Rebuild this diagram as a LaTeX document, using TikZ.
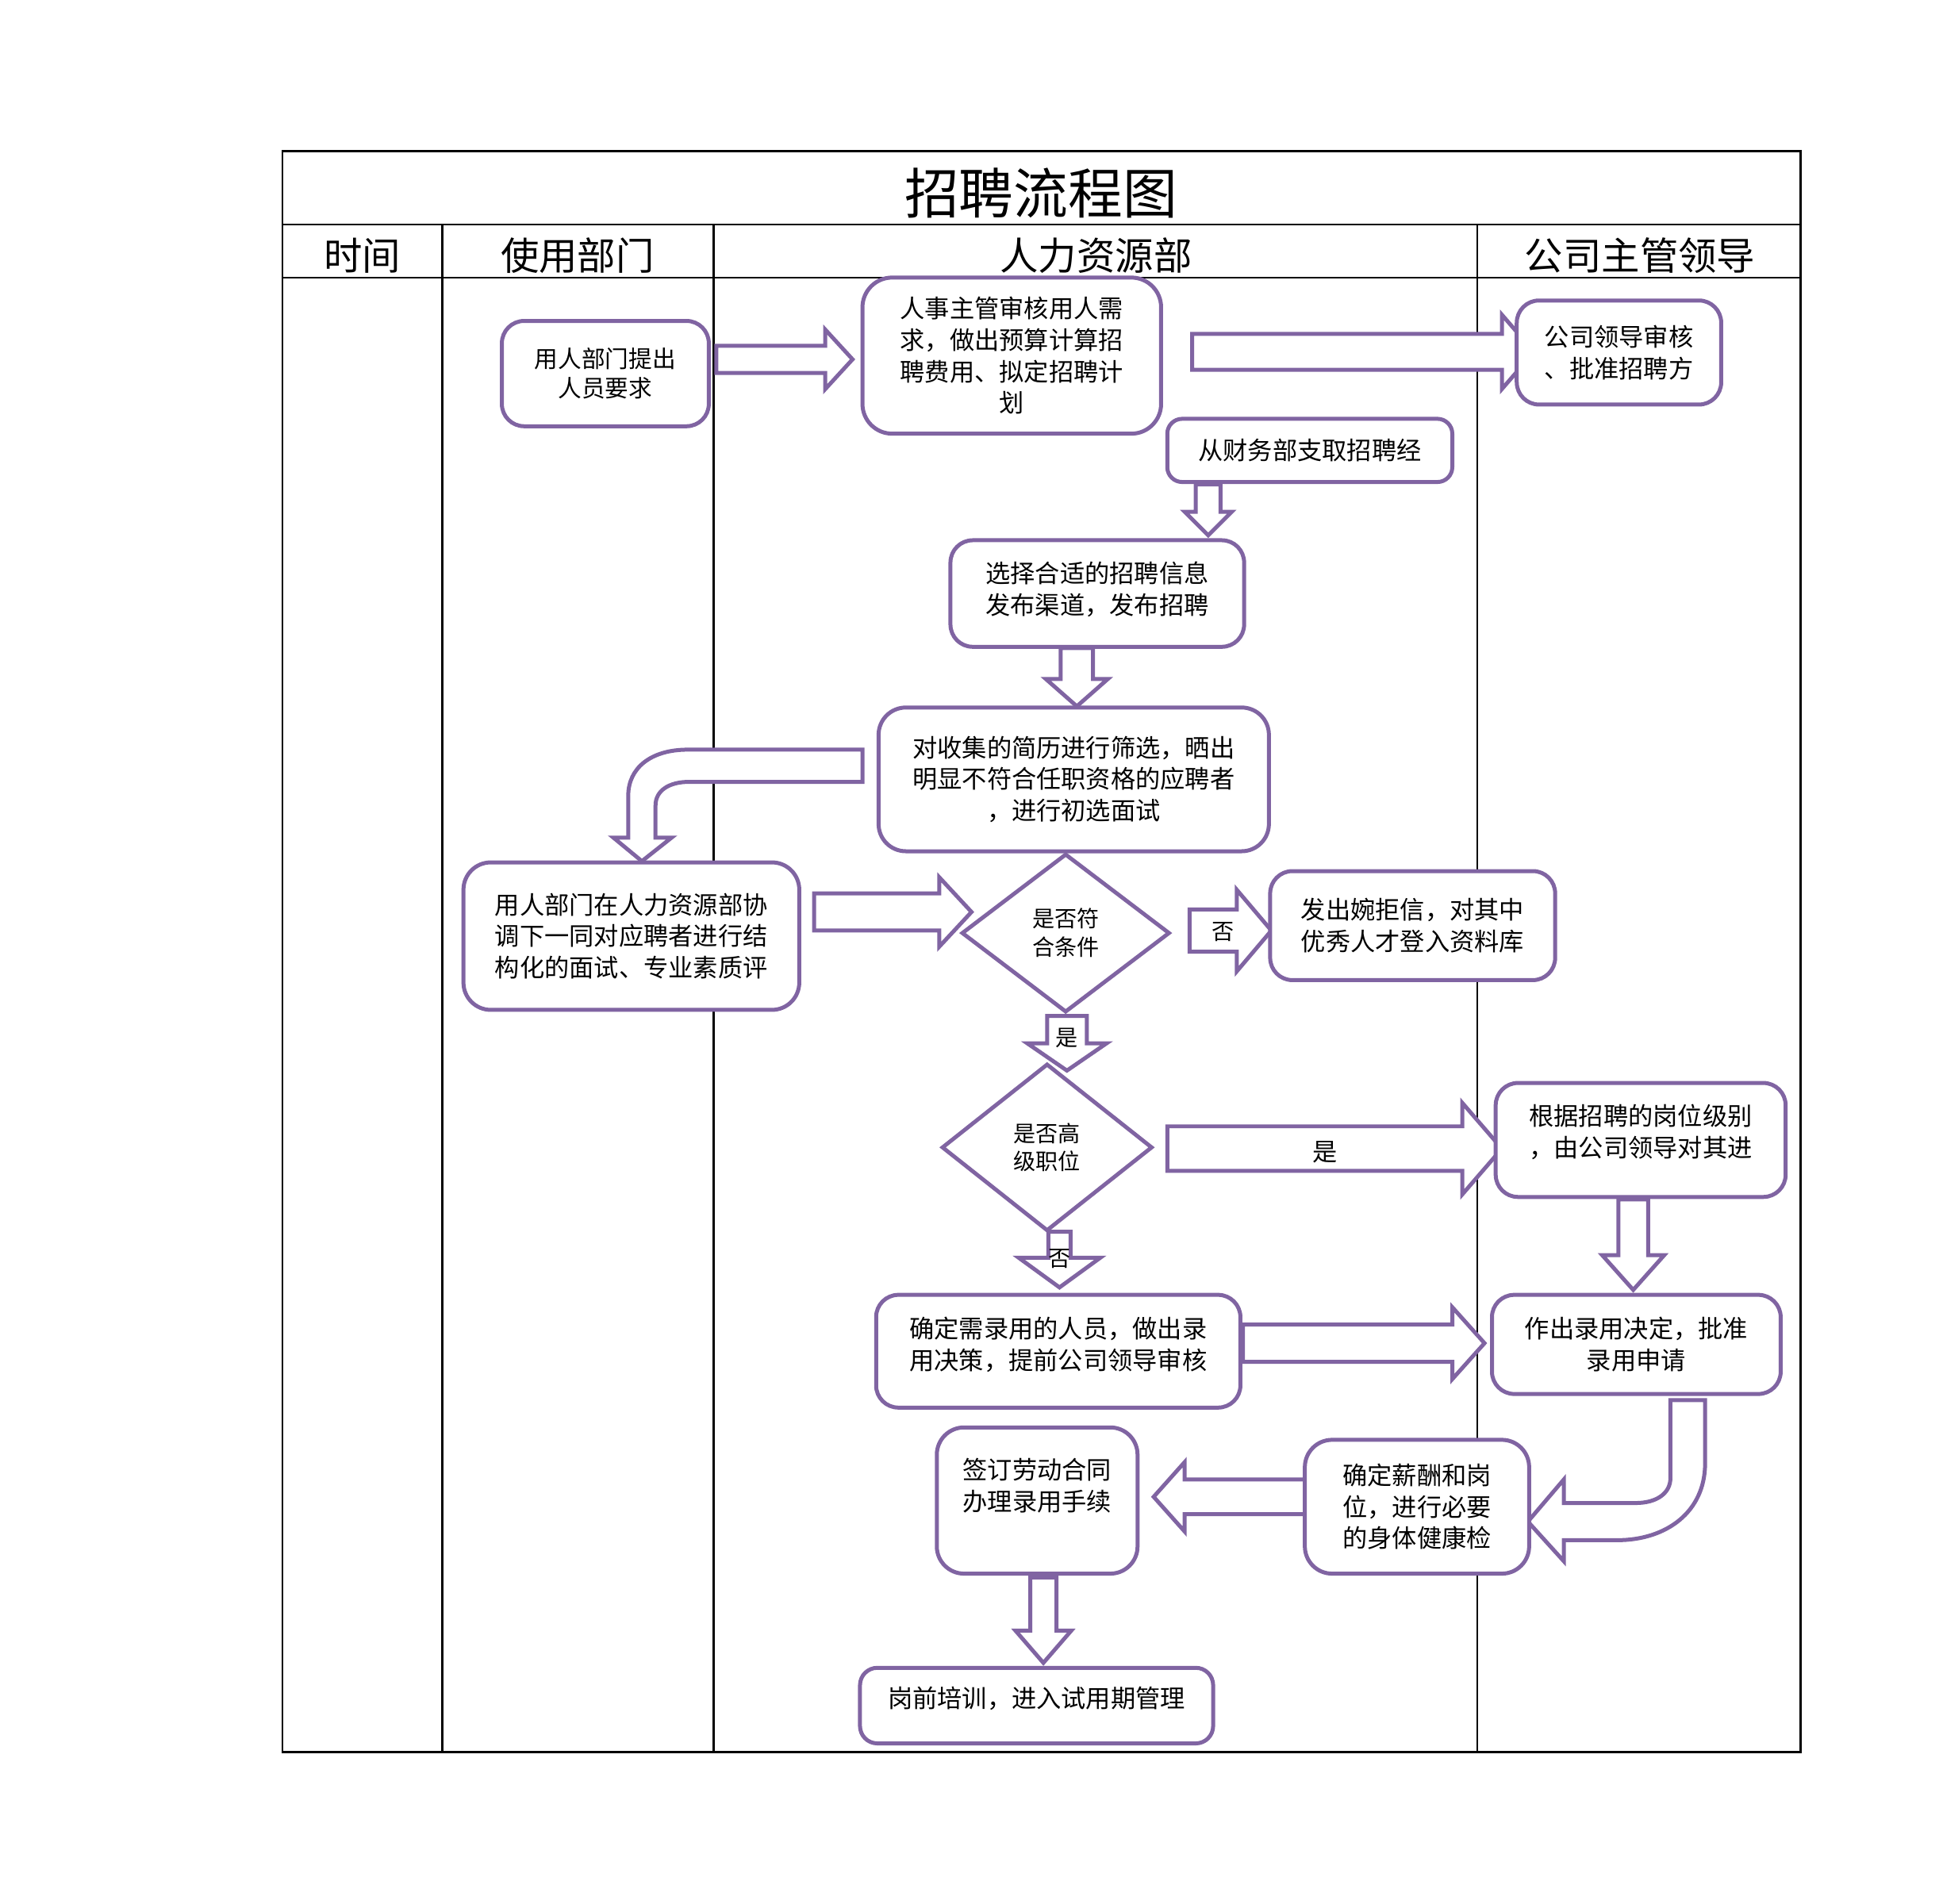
\documentclass[tikz,border=0pt]{standalone}
\usepackage{fontspec}
\setmainfont{Noto Sans CJK SC}
\usetikzlibrary{shapes.geometric}

\tikzset{every picture/.style={line width=0.75pt}}
\tikzset{
  flowbox/.style={draw={rgb, 255:red, 128; green, 100; blue, 162 }, fill=white, line width=1.6pt, rounded corners=9pt, align=center, inner sep=0pt, font=\fontsize{10}{12.7}\selectfont},
  flowdiamond/.style={draw={rgb, 255:red, 128; green, 100; blue, 162 }, fill=white, line width=1.6pt, shape=diamond, align=center, inner sep=0pt, font=\fontsize{9}{11.5}\selectfont},
  blockarrow/.style={draw={rgb, 255:red, 128; green, 100; blue, 162 }, fill=white, line width=1.6pt},
  arrowlabel/.style={inner sep=0pt, font=\fontsize{9}{10}\selectfont},
  headcell/.style={inner sep=0pt, font=\fontsize{15.5}{16}\selectfont}
}

% #1 start x, #2 head x, #3 tip x, #4 centre y, #5 half shaft, #6 half head
\newcommand{\hblock}[6]{\draw[blockarrow] (#1,#4-#5) -- (#2,#4-#5) -- (#2,#4-#6) -- (#3,#4) -- (#2,#4+#6) -- (#2,#4+#5) -- (#1,#4+#5) -- cycle ;}
% #1 start y, #2 head y, #3 tip y, #4 centre x, #5 half shaft, #6 half head
\newcommand{\vblock}[6]{\draw[blockarrow] (#4-#5,#1) -- (#4-#5,#2) -- (#4-#6,#2) -- (#4,#3) -- (#4+#6,#2) -- (#4+#5,#2) -- (#4+#5,#1) -- cycle ;}

\begin{document}
\begin{tikzpicture}[x=0.5pt,y=0.5pt,yscale=-1,xscale=1]
\useasboundingbox (0,0) rectangle (1568,1536);

%Table: frame and lanes
\draw (228,122) rectangle (1453,1414) ;
\draw (228,181) -- (1453,181) ;
\draw (228,224) -- (1453,224) ;
\draw (357,181) -- (357,1414) ;
\draw (576,181) -- (576,1414) ;
\draw (1192,181) -- (1192,1414) ;

%Titles
\node[inner sep=0pt, font=\fontsize{22}{24}\selectfont] (title) at (840,156) {招聘流程图};
\node[headcell] (hdtime) at (292.5,206) {时间};
\node[headcell] (hddept) at (466,206) {使用部门};
\node[headcell] (hdhr) at (884.5,206) {人力资源部};
\node[headcell] (hdlead) at (1323.5,206) {公司主管领导};

%Shape: Right Arrow
\hblock{578}{666}{688}{290}{11}{24}
%Shape: Right Arrow
\hblock{962}{1212}{1238}{284}{14.5}{30}
%Shape: Down Arrow
\vblock{391}{413}{432}{975}{10}{19}
%Shape: Down Arrow
\vblock{523}{548}{570}{869}{13}{25}
%Shape: Bent Arrow
\draw[blockarrow] (696,605) -- (555,605) .. controls (525,605) and (507,620) .. (507,642) -- (507,676) -- (495,676) -- (518,695) -- (542,676) -- (529,676) -- (529,650) .. controls (529,638) and (540,631) .. (556,631) -- (696,631) -- cycle ;
%Shape: Right Arrow
\hblock{657}{758}{784}{736}{15}{28}
%Shape: Right Arrow
\hblock{960}{998}{1026}{751}{17}{33}
%Shape: Down Arrow
\vblock{820}{842}{864}{861}{16}{32}
%Shape: Right Arrow
\hblock{942}{1180}{1212}{927}{18}{37}
%Shape: Down Arrow
\vblock{994}{1015}{1039}{855}{9}{33}
%Shape: Down Arrow
\vblock{968}{1013}{1041}{1318}{12}{25}
%Shape: Right Arrow
\hblock{1003}{1172}{1198}{1084}{15}{29}
%Shape: Bent Arrow
\draw[blockarrow] (1376,1130) -- (1376,1181) .. controls (1376,1220) and (1345,1243) .. (1305,1243) -- (1262,1243) -- (1262,1260) -- (1233,1228) -- (1262,1194) -- (1262,1213) -- (1320,1213) .. controls (1337,1213) and (1348,1205) .. (1348,1193) -- (1348,1130) -- cycle ;
%Shape: Left Arrow
\hblock{1065}{956}{931}{1208}{14}{28}
%Shape: Down Arrow
\vblock{1273}{1316}{1342}{842}{10.5}{22.5}

%Flowchart: Process
\node[flowbox, minimum width=83.5pt, minimum height=42.5pt, font=\fontsize{9.5}{11.8}\selectfont] (reqdept) at (488.5,301.5) {用人部门提出\\人员要求};
\node[flowbox, minimum width=120.5pt, minimum height=63pt, rounded corners=12pt] (hrplan) at (816.5,287) {人事主管审核用人需\\求，做出预算计算招\\聘费用、拟定招聘计\\划};
\node[flowbox, minimum width=82.5pt, minimum height=42pt] (leadapprove) at (1306.5,284.5) {公司领导审核\\、批准招聘方};
\node[flowbox, minimum width=115pt, minimum height=25.5pt, rounded corners=6pt] (finance) at (1057,363.5) {从财务部支取招聘经};
\node[flowbox, minimum width=118.5pt, minimum height=43pt, text depth=4.5pt] (publish) at (885.5,479) {选择合适的招聘信息\\发布渠道，发布招聘};
\node[flowbox, minimum width=157.5pt, minimum height=58pt, rounded corners=11pt] (screen) at (866.5,629) {对收集的简历进行筛选，晒出\\明显不符合任职资格的应聘者\\，进行初选面试};
\node[flowbox, minimum width=135.5pt, minimum height=59.5pt, rounded corners=11pt] (interview) at (509.5,755.5) {用人部门在人力资源部协\\调下一同对应聘者进行结\\构化的面试、专业素质评};
\node[flowbox, minimum width=115pt, minimum height=44pt] (reject) at (1140,747) {发出婉拒信，对其中\\优秀人才登入资料库};
\node[flowbox, minimum width=117pt, minimum height=46pt, text depth=7.5pt] (leadinterview) at (1324,920) {根据招聘的岗位级别\\，由公司领导对其进};
\node[flowbox, minimum width=147pt, minimum height=45.5pt, text depth=6.5pt] (decide) at (854,1090.5) {确定需录用的人员，做出录\\用决策，提前公司领导审核};
\node[flowbox, minimum width=116.5pt, minimum height=40pt] (approve) at (1320.5,1085) {作出录用决定，批准\\录用申请};
\node[flowbox, minimum width=81pt, minimum height=59pt, rounded corners=11pt, text depth=13pt] (sign) at (837,1211) {签订劳动合同\\办理录用手续};
\node[flowbox, minimum width=90.5pt, minimum height=54pt, rounded corners=11pt] (salary) at (1143.5,1216) {确定薪酬和岗\\位，进行必要\\的身体健康检};
\node[flowbox, minimum width=142.5pt, minimum height=30.5pt, rounded corners=7pt, text depth=6.5pt] (training) at (836.5,1376.5) {岗前培训，进入试用期管理};

%Flowchart: Decision
\node[flowdiamond, minimum width=84pt, minimum height=64pt] (qualify) at (860,753) {是否符\\合条件};
\node[flowdiamond, minimum width=85pt, minimum height=67.5pt] (senior) at (845,926) {是否高\\级职位};

%Arrow labels
\node[arrowlabel] (notqualify) at (987,752) {否};
\node[arrowlabel] (isqualify) at (861,838) {是};
\node[arrowlabel, font=\fontsize{10}{11}\selectfont] (issenior) at (1069,930) {是};
\node[arrowlabel] (notsenior) at (855,1016) {否};

\end{tikzpicture}
\end{document}
